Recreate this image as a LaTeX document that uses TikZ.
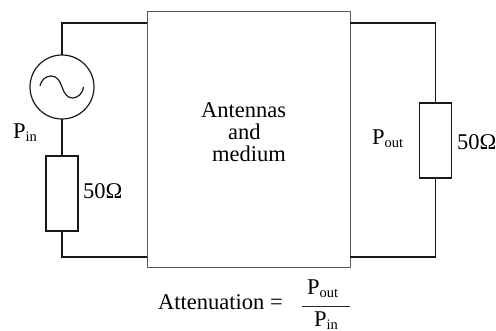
\documentclass[tikz,border=0pt]{standalone}
\usepackage{fontspec}
\setmainfont{Liberation Serif}
\tikzset{
  x=1pt,y=-1pt,
  wire/.style={line width=1.2pt,draw=black!90},
  rbox/.style={draw=black!90,line width=1.2pt,minimum width=32pt,minimum height=75pt,inner sep=0pt,outer sep=0pt,fill=white},
  medium/.style={draw=black!65,line width=1pt,minimum width=203pt,minimum height=256pt,inner sep=0pt,outer sep=0pt},
  srcc/.style={circle,draw=black!90,line width=1.2pt,minimum size=64pt,inner sep=0pt,outer sep=0pt},
  lbl/.style={inner sep=0pt,font=\fontsize{22.5}{24}\selectfont,anchor=base},
  lblw/.style={lbl,anchor=base west}
}
\newcommand{\Psub}[1]{P\raisebox{-3pt}{\fontsize{14.5}{15}\selectfont #1}}
\begin{document}
\begin{tikzpicture}
\useasboundingbox (0,0) rectangle (496,331);
\node[medium] (box) at (248.5,140) {};
\node[srcc] (src) at (62,87) {};
\node[rbox] (rl) at (62,193.5) {};
\node[rbox] (rr) at (435.5,140.5) {};
\coordinate (bl1) at (147,23);
\coordinate (bl2) at (147,257);
\coordinate (br1) at (350,23);
\coordinate (br2) at (350,257);
\draw[wire] (src.north) |- (bl1);
\draw[wire] (src.south) -- (rl.north);
\draw[wire] (rl.south) |- (bl2);
\draw[wire] (br1) -| (rr.north);
\draw[wire] (br2) -| (rr.south);
\draw[wire] (40,86) .. controls (41,80) and (46,76) .. (51,76)
  .. controls (57,76) and (60,81) .. (62,87)
  .. controls (64,93) and (67,98) .. (72.5,98)
  .. controls (78,98) and (83,93) .. (83.5,87);
\node[lblw] (t1) at (201,118) {Antennas};
\node[lblw] (t2) at (228,140) {and};
\node[lblw] (t3) at (212,162) {medium};
\node[lblw] (pin) at (13,139) {\Psub{in}};
\node[lblw] (rl50) at (83,199) {50Ω};
\node[lblw] (pout) at (372,145) {\Psub{out}};
\node[lblw] (rr50) at (457,150) {50Ω};
\node[lblw] (att) at (158,310) {Attenuation =};
\node[lblw] (fn) at (307,295) {\Psub{out}};
\node[lblw] (fd) at (314,326.5) {\Psub{in}};
\draw[line width=0.9pt,draw=black!85] (302,306) -- (350,306);
\end{tikzpicture}
\end{document}
